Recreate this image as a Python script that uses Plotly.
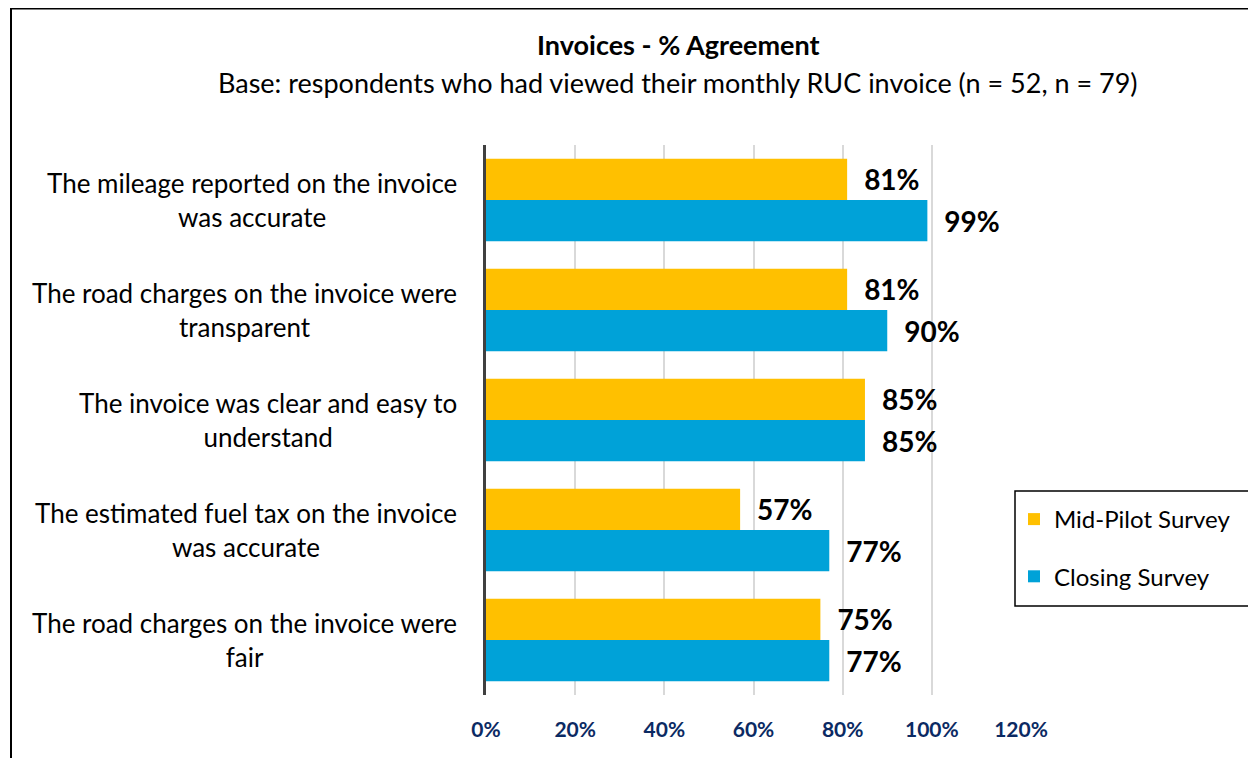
import plotly.graph_objects as go

categories = [
    "The mileage reported on the invoice<br>was accurate",
    "The road charges on the invoice were<br>transparent",
    "The invoice was clear and easy to<br>understand",
    "The estimated fuel tax on the invoice<br>was accurate",
    "The road charges on the invoice were<br>fair",
]
mid_pilot = [81, 81, 85, 57, 75]
closing = [99, 90, 85, 77, 77]
series_names = ["Mid-Pilot Survey", "Closing Survey"]
colors = ["#FFC000", "#00A2D8"]
x_ticks = [0, 20, 40, 60, 80, 100, 120]

# page body has an 8px margin; work in page pixels and offset
OFF = 8
W, H = 1256 - OFF, 758 - OFF
L, R, T, B = 486 - OFF, 1021 - OFF, 145 - OFF, 695 - OFF
FONT = "Lato"

fig = go.Figure()
for i, (name, vals) in enumerate(zip(series_names, [mid_pilot, closing])):
    fig.add_trace(go.Bar(
        y=categories, x=vals, name=name, orientation="h",
        marker=dict(color=colors[i], line=dict(width=0)),
        text=[f"\u2002{v}%" for v in vals], textposition="outside",
        textfont=dict(family=FONT, size=28, color="black", weight="bold"),
        cliponaxis=False, legendgroup=name,
    ))

pw, ph = R - L, B - T
def px2x(p): return (p - OFF - L) / pw
def px2y(p): return (B - (p - OFF)) / ph

annotations = []
for c in categories:
    annotations.append(dict(
        xref="paper", yref="y", x=0, y=c, xanchor="right", yanchor="middle",
        xshift=-27, text=c, showarrow=False, align="center",
        font=dict(family=FONT, size=26, color="black"),
    ))
annotations.append(dict(xref="paper", yref="paper", x=px2x(678), y=px2y(45),
    xanchor="center", yanchor="middle", showarrow=False,
    text="<b>Invoices - % Agreement</b>", font=dict(family=FONT, size=27, color="black")))
annotations.append(dict(xref="paper", yref="paper", x=px2x(678), y=px2y(82),
    xanchor="center", yanchor="middle", showarrow=False,
    text="Base: respondents who had viewed their monthly RUC invoice (n = 52, n = 79)",
    font=dict(family=FONT, size=27, color="black")))

shapes = [
    dict(type="line", xref="paper", yref="paper", x0=px2x(11), x1=px2x(11),
         y0=px2y(8), y1=px2y(800), line=dict(color="black", width=2)),
    dict(type="line", xref="paper", yref="paper", x0=px2x(10), x1=px2x(1300),
         y0=px2y(8.5), y1=px2y(8.5), line=dict(color="black", width=2)),
    # legend frame
    dict(type="rect", xref="paper", yref="paper", x0=px2x(1015), x1=px2x(1250),
         y0=px2y(606), y1=px2y(491), line=dict(color="black", width=1.5),
         fillcolor="white", layer="below"),
]

fig.update_layout(
    width=W, height=H,
    margin=dict(l=L, r=W - R, t=T, b=H - B, pad=0),
    paper_bgcolor="white", plot_bgcolor="rgba(0,0,0,0)",
    barmode="group", bargap=0.25, bargroupgap=0,
    xaxis=dict(range=[0, 120], tickvals=x_ticks, ticktext=[f"{v}%" for v in x_ticks],
               showgrid=True, gridcolor="#D9D9D9", gridwidth=2, zeroline=False,
               showline=False, ticks="", ticklabelstandoff=20,
               tickfont=dict(family=FONT, size=21, color="#0B2A63", weight="bold")),
    yaxis=dict(autorange="reversed", showticklabels=False, showgrid=False,
               showline=True, linecolor="#404040", linewidth=3, zeroline=False, ticks=""),
    showlegend=True,
    legend=dict(x=px2x(1014), y=px2y(497), xanchor="left", yanchor="top",
                xref="paper", yref="paper",
                borderwidth=0, bgcolor="rgba(0,0,0,0)",
                font=dict(family=FONT, size=24, color="black"),
                traceorder="grouped", tracegroupgap=23, itemwidth=30),
    annotations=annotations, shapes=shapes,
)

fig.write_html("out.html")
